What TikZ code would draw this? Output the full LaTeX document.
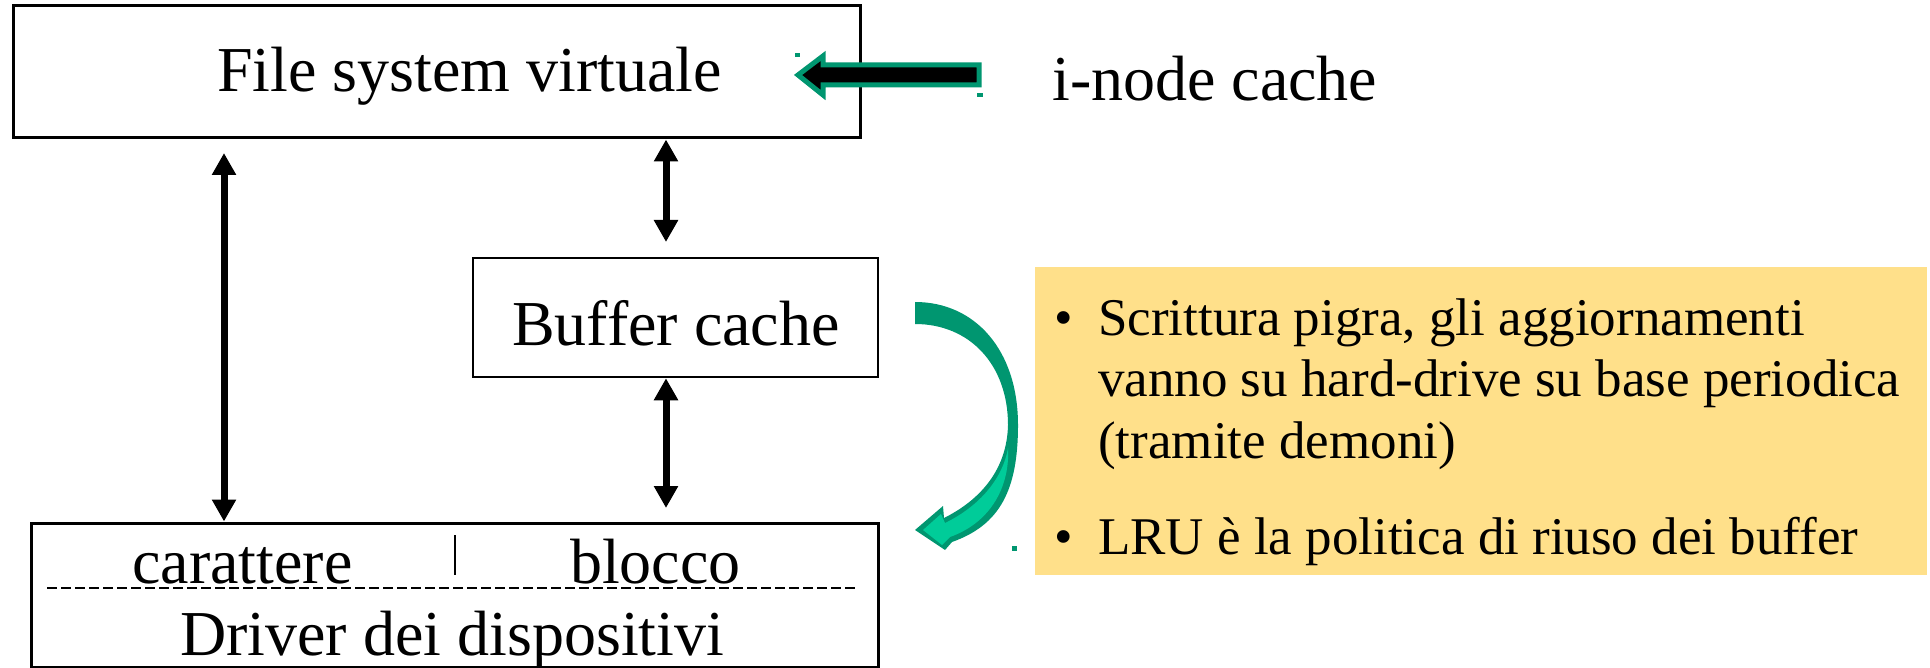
\documentclass[tikz,border=0pt]{standalone}
\usepackage{fontspec}
\setmainfont{Liberation Serif}
\usetikzlibrary{arrows.meta}
\definecolor{dkgreen}{RGB}{0,150,112}
\definecolor{ltgreen}{RGB}{0,204,153}
\definecolor{notefill}{RGB}{255,224,138}
\begin{document}
\begin{tikzpicture}[x=1pt,y=-1pt,
  box/.style={draw=black,line width=3pt,inner sep=0pt},
  big/.style={font=\fontsize{64}{72}\selectfont,inner sep=0pt,anchor=base west},
  small/.style={font=\fontsize{53}{62}\selectfont,inner sep=0pt,anchor=base west},
  dbl/.style={line width=7pt,{Triangle[length=22pt,width=23pt]}-{Triangle[length=22pt,width=23pt]}}]
\useasboundingbox[fill=white] (0,0) rectangle (1930,668);
% note box
\node[fill=notefill,inner sep=0pt,minimum width=892pt,minimum height=308pt] (note) at (1481,421) {};
% boxes
\node[box,minimum width=847pt,minimum height=132pt] (fsv) at (436.5,72) {};
\node[box,line width=2.5pt,minimum width=405pt,minimum height=119pt] (buf) at (675.5,317.5) {};
\node[box,minimum width=847pt,minimum height=144pt] (drv) at (454.5,595) {};
% texts
\node[big] (t1) at (217,92) {File system virtuale};
\node[big] (t2) at (1052,101) {i-node cache};
\node[big] (t3) at (512,345) {Buffer cache};
\node[big] (t4) at (132,583) {carattere};
\node[big] (t5) at (570,583) {blocco};
\node[big] (t6) at (180,655) {Driver dei dispositivi};
\draw[line width=2pt,dash pattern=on 10pt off 4pt] (47,588) -- (856,588);
\draw[line width=2pt] (455,535) -- (455,575);
% bullets
\node[small] (b1) at (1054,335) {•};
\node[small] (l1) at (1098,335) {Scrittura pigra, gli aggiornamenti};
\node[small] (l2) at (1098,396) {vanno su hard-drive su base periodica};
\node[small] (l3) at (1098,458) {(tramite demoni)};
\node[small] (b2) at (1054,554) {•};
\node[small] (l4) at (1098,554) {LRU è la politica di riuso dei buffer};
% double arrows
\coordinate (a1s) at (224,153);
\draw[dbl] (a1s) -- (a1s |- drv.north);
\coordinate (a2e) at (666,242);
\draw[dbl] (fsv.south -| a2e) -- (a2e);
\coordinate (a3e) at (666,508);
\draw[dbl] (buf.south -| a3e) -- (a3e);
% i-node block arrow
\draw[draw=dkgreen,fill=black,line width=5pt,line join=miter] (798,75) -- (823,56) -- (823,65) -- (979,65) -- (979,85) -- (823,85) -- (823,95) -- cycle;
\fill[dkgreen] (795,53) rectangle (800,57);
\fill[dkgreen] (977,93) rectangle (983,97);
% curved arrow
\fill[dkgreen] (915,302) .. controls (975,302) and (1018,350) .. (1018,425) .. controls (1018,490) and (1000,525) .. (952,542) -- (945,550) -- (915,530) -- (943,506) -- (944,518) .. controls (980,500) and (1007,470) .. (1008,425) .. controls (1008,365) and (970,324) .. (915,324) -- cycle;
\fill[ltgreen] (923,530) -- (941,514) -- (945,523) .. controls (980,506) and (1003,478) .. (1008,448) .. controls (1010,485) and (992,522) .. (950,537) -- (942,545) -- cycle;
\fill[dkgreen] (1012,546) rectangle (1017,551);
\end{tikzpicture}
\end{document}
